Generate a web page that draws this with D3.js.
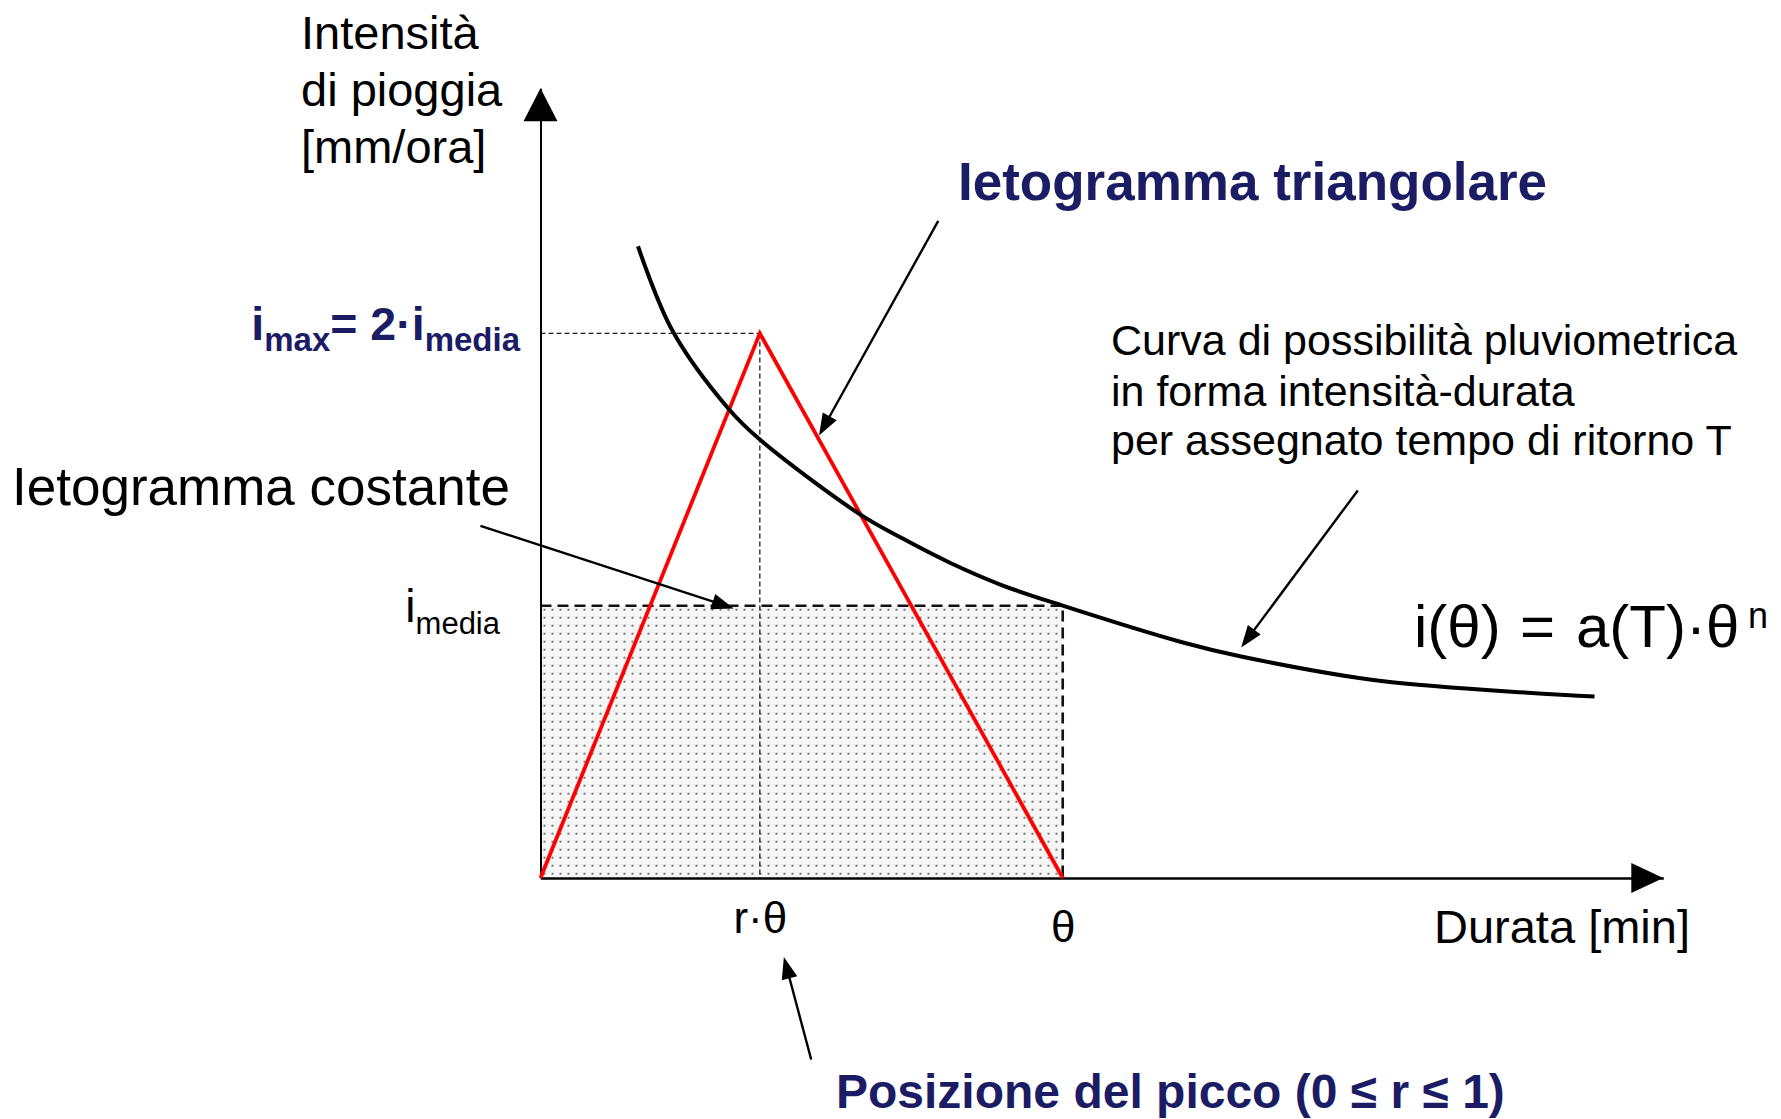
<!DOCTYPE html>
<html>
<head>
<meta charset="utf-8">
<script src="https://cdn.jsdelivr.net/npm/d3@7/dist/d3.min.js"></script>
<style>
  html, body { margin: 0; padding: 0; background: #ffffff; }
  svg { display: block; font-family: "Liberation Sans", Arial, sans-serif; }
</style>
</head>
<body>
<svg id="chart" width="1781" height="1119"></svg>
<script>
// Durata in minuti, intensità in mm/ora
const theta = 60;          // durata dell'evento
const rTheta = 25.2;       // posizione del picco (r = 0.42)
const iMedia = 30;         // intensità media
const iMax = 60;           // intensità di picco = 2 · iMedia
const durataMax = 129;     // estremo asse durate
const intensitaMax = 87;   // estremo asse intensità

// Curva di possibilità pluviometrica (intensità-durata)
const curvaDurata    = [11.2, 15.1, 21.6, 25.2, 36.8, 41.4, 47.1, 52.9, 60, 73.6, 80.5, 96.6, 121.1];
const curvaIntensita = [69.6, 60.4, 51.7, 48.3, 40.0, 37.5, 34.7, 32.3, 30, 26.0, 24.4, 21.7, 20.0];

// Ietogramma triangolare
const triDurata    = [0, 25.2, 60];
const triIntensita = [0, 60, 0];

// Ietogramma costante
const rettDurata    = [0, 60];
const rettIntensita = [30, 30];

// Etichette asse durate
const tickDurata = [rTheta, theta];
const tickDurataLabel = ["r·θ", "θ"];

// Frecce di richiamo [da durata, da intensità, a durata, a intensità]
const frecciaCostante    = [-6.9, 38.8, 22.2, 29.7];
const frecciaTriangolare = [45.7, 72.4, 32.0, 48.75];
const frecciaCurva       = [93.9, 42.7, 80.5, 25.4];
const frecciaPicco       = [31.1, -20.0, 27.96, -8.7];

const NAVY = "#1c1c64";
const svg = d3.select("#chart");

const x = d3.scaleLinear().domain([0, durataMax]).range([540.5, 1663.3]);
const y = d3.scaleLinear().domain([0, intensitaMax]).range([878, 88.3]);

// Retino puntinato per l'ietogramma costante
const defs = svg.append("defs");
const pat = defs.append("pattern")
  .attr("id", "puntini").attr("patternUnits", "userSpaceOnUse")
  .attr("width", 8).attr("height", 8)
  .attr("x", x(0) + 3).attr("y", y(iMedia) + 3);
pat.append("rect").attr("width", 8).attr("height", 8).attr("fill", "#f6f6f6");
pat.append("rect").attr("x", 0).attr("y", 0).attr("width", 2).attr("height", 2).attr("fill", "#7a7a7a");

svg.append("rect")
  .attr("x", x(rettDurata[0])).attr("y", y(rettIntensita[0]))
  .attr("width", x(rettDurata[1]) - x(rettDurata[0]))
  .attr("height", y(0) - y(rettIntensita[0]))
  .attr("fill", "url(#puntini)");

// Linee di riferimento del picco
svg.append("line")
  .attr("x1", x(0)).attr("x2", x(rTheta)).attr("y1", y(iMax)).attr("y2", y(iMax))
  .attr("stroke", "#222").attr("stroke-width", 1.3).attr("stroke-dasharray", "5,3");
svg.append("line")
  .attr("x1", x(rTheta)).attr("x2", x(rTheta)).attr("y1", y(iMax)).attr("y2", y(0))
  .attr("stroke", "#222").attr("stroke-width", 1.3).attr("stroke-dasharray", "5,3");

// Contorno tratteggiato dell'ietogramma costante
svg.append("path")
  .attr("d", `M${x(0)},${y(iMedia)}H${x(theta)}V${y(0)}`)
  .attr("fill", "none").attr("stroke", "#111").attr("stroke-width", 2.6)
  .attr("stroke-dasharray", "11,6");

// Assi
const xAxis = d3.axisBottom(x).tickValues(tickDurata)
  .tickFormat((d, i) => tickDurataLabel[i]).tickSize(0).tickSizeOuter(0);
const gx = svg.append("g").attr("transform", `translate(0,${y(0)})`).call(xAxis);
gx.select(".domain").attr("stroke", "#000").attr("stroke-width", 2.3);
gx.selectAll(".tick text")
  .attr("font-family", "Liberation Sans, Arial, sans-serif")
  .attr("font-size", 44).attr("fill", "#000").attr("dy", 0)
  .attr("y", (d, i) => i === 0 ? 55 : 64);

const yAxis = d3.axisLeft(y).tickValues([iMedia, iMax]).tickSize(0).tickSizeOuter(0).tickFormat("");
const gy = svg.append("g").attr("transform", `translate(${x(0)},0)`).call(yAxis);
gy.select(".domain").attr("stroke", "#000").attr("stroke-width", 2);

// Etichette delle intensità sull'asse verticale
gy.selectAll(".tick text").each(function (d) {
  const t = d3.select(this).text(null).attr("dy", 0)
    .attr("font-family", "Liberation Sans, Arial, sans-serif").attr("text-anchor", "end");
  if (d === iMedia) {
    t.attr("x", -40.5).attr("y", 16).attr("fill", "#000");
    t.append("tspan").attr("font-size", 46).text("i");
    t.append("tspan").attr("font-size", 31).attr("dy", 11.6).text("media");
  } else {
    t.attr("x", -20.5).attr("y", 6).attr("fill", NAVY).attr("font-weight", "bold");
    t.append("tspan").attr("font-size", 46.5).text("i");
    t.append("tspan").attr("font-size", 33).attr("dy", 11).text("max");
    t.append("tspan").attr("font-size", 46.5).attr("dy", -11).text("= 2·i");
    t.append("tspan").attr("font-size", 33).attr("dy", 11).text("media");
  }
});

// Punte delle frecce degli assi
function punta(tx, ty, ang, len, hw) {
  const c = Math.cos(ang), s = Math.sin(ang);
  const bx = tx - c * len, by = ty - s * len;
  return `M${tx},${ty}L${bx - s * hw},${by + c * hw}L${bx + s * hw},${by - c * hw}Z`;
}
svg.append("path").attr("d", punta(x(0), y(intensitaMax), -Math.PI / 2, 33, 17)).attr("fill", "#000");
svg.append("path").attr("d", punta(x(durataMax), y(0), 0, 32, 15)).attr("fill", "#000");

// Ietogramma triangolare
const tri = d3.line().x(d => x(d[0])).y(d => y(d[1]));
svg.append("path")
  .attr("d", tri(triDurata.map((d, i) => [d, triIntensita[i]])))
  .attr("fill", "none").attr("stroke", "#ff0000").attr("stroke-width", 3.8)
  .attr("stroke-linejoin", "miter");

// Curva intensità-durata
const curva = d3.line().x(d => x(d[0])).y(d => y(d[1])).curve(d3.curveCatmullRom.alpha(0.5));
svg.append("path")
  .attr("d", curva(curvaDurata.map((d, i) => [d, curvaIntensita[i]])))
  .attr("fill", "none").attr("stroke", "#000").attr("stroke-width", 4);

// Frecce di richiamo
function freccia(f) {
  const x1 = x(f[0]), y1 = y(f[1]), x2 = x(f[2]), y2 = y(f[3]);
  const ang = Math.atan2(y2 - y1, x2 - x1);
  const len = 22;
  svg.append("line")
    .attr("x1", x1).attr("y1", y1)
    .attr("x2", x2 - Math.cos(ang) * (len - 2)).attr("y2", y2 - Math.sin(ang) * (len - 2))
    .attr("stroke", "#000").attr("stroke-width", 2.4);
  svg.append("path").attr("d", punta(x2, y2, ang, len, 8)).attr("fill", "#000");
}
[frecciaCostante, frecciaTriangolare, frecciaCurva, frecciaPicco].forEach(freccia);

// Testi
function testo(tx, ty, str, size, opts = {}) {
  return svg.append("text").attr("x", tx).attr("y", ty)
    .attr("font-size", size).attr("fill", opts.fill || "#000")
    .attr("font-weight", opts.bold ? "bold" : "normal").text(str);
}

testo(301, 49.3, "Intensità", 47);
testo(301, 106, "di pioggia", 47);
testo(301, 163.3, "[mm/ora]", 47);

testo(12, 505, "Ietogramma costante", 53);
testo(958, 200, "Ietogramma triangolare", 53, { bold: true, fill: NAVY });

testo(1111, 355, "Curva di possibilità pluviometrica", 43);
testo(1111, 405.5, "in forma intensità-durata", 43);
testo(1111, 455, "per assegnato tempo di ritorno T", 43);

// Legge i(θ) = a(T)·θⁿ
const formula = svg.append("text").attr("y", 647).attr("font-size", 60).attr("fill", "#000");
formula.append("tspan").attr("x", 1414).text("i(θ)");
formula.append("tspan").attr("x", 1520).text("=");
formula.append("tspan").attr("x", 1576).text("a(T)");
formula.append("tspan").attr("x", 1686).text("·");
formula.append("tspan").attr("x", 1706).text("θ");
formula.append("tspan").attr("x", 1748).attr("dy", -19).attr("font-size", 36).text("n");

testo(1434, 943, "Durata [min]", 47);
testo(836, 1108, "Posizione del picco (0 ≤ r ≤ 1)", 48, { bold: true, fill: NAVY });
</script>
</body>
</html>
